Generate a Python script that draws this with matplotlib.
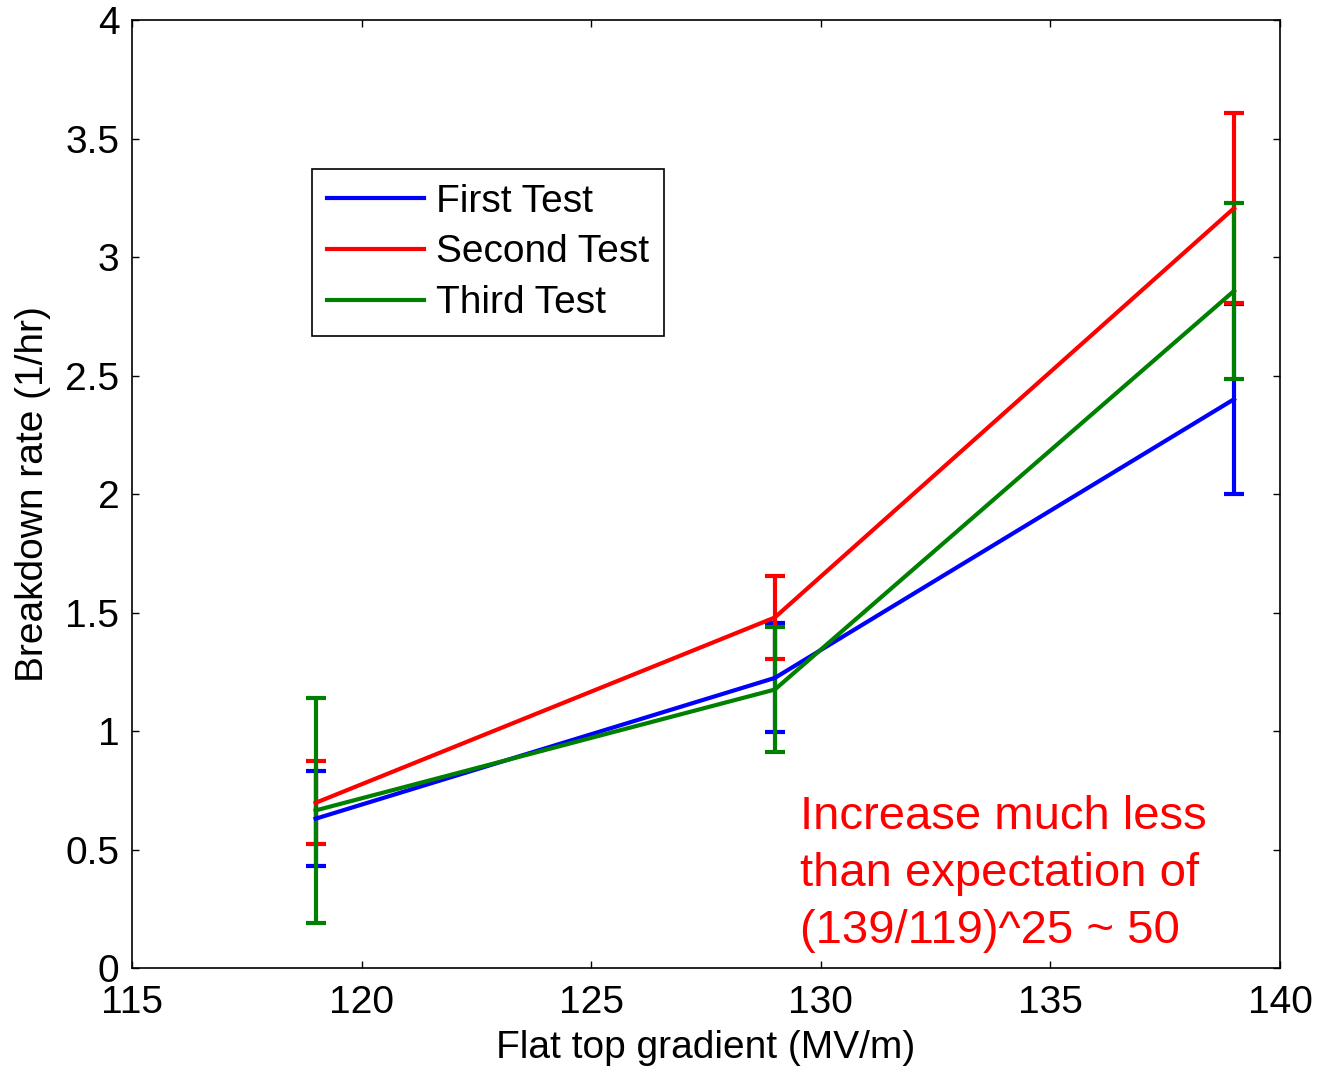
import matplotlib
matplotlib.use('Agg')
import matplotlib.pyplot as plt
import numpy as np

plt.rcParams['font.family'] = ['Liberation Sans', 'DejaVu Sans']

gradient = [119, 129, 139]

first_rate = [0.63, 1.224, 2.40]
first_err = [0.20, 0.23, 0.40]

second_rate = [0.697, 1.479, 3.206]
second_err = [0.175, 0.175, 0.40]

third_rate = [0.665, 1.175, 2.857]
third_err = [0.475, 0.262, 0.37]

labels = ['First Test', 'Second Test', 'Third Test']
colors = ['#0000ff', '#ff0000', '#008000']

fig = plt.figure(figsize=(13.19, 10.70), dpi=100)
ax = fig.add_axes([0.1, 0.0953, 0.8704, 0.886])

series = [(first_rate, first_err), (second_rate, second_err), (third_rate, third_err)]
for (y, e), lab, c in zip(series, labels, colors):
    ax.errorbar(gradient, y, yerr=e, color=c, lw=3, elinewidth=3,
                capsize=7, capthick=3, label=lab)

ax.set_xlim(115, 140)
ax.set_ylim(0, 4)
ax.set_xticks(np.arange(115, 141, 5))
ax.set_yticks(np.arange(0, 4.01, 0.5))
ax.set_yticklabels(['%g' % v for v in np.arange(0, 4.01, 0.5)])
ax.tick_params(direction='in', length=5, width=1, top=True, right=True,
               labelsize=28)
ax.tick_params(axis='y', pad=9)
ax.tick_params(axis='x', pad=12)
for s in ax.spines.values():
    s.set_linewidth(1.2)

ax.set_xlabel('Flat top gradient (MV/m)', fontsize=28, labelpad=7)
ax.set_ylabel('Breakdown rate (1/hr)', fontsize=28, labelpad=10)

handles, labs = ax.get_legend_handles_labels()
handles = [h[0] for h in handles]
leg = ax.legend(handles, labs, loc='upper left', bbox_to_anchor=(0.157, 0.843),
                borderaxespad=0, fontsize=28, handlelength=2.5, handletextpad=0.3,
                labelspacing=0.38, borderpad=0.38, fancybox=False, framealpha=1)
leg.get_frame().set_edgecolor('black')
leg.get_frame().set_linewidth(1.2)

ax.text(129.55, 0.105, 'Increase much less\nthan expectation of\n(139/119)^25 ~ 50',
        color='red', fontsize=34, va='baseline', ha='left', linespacing=1.38)

fig.savefig('out.png', dpi=100)
